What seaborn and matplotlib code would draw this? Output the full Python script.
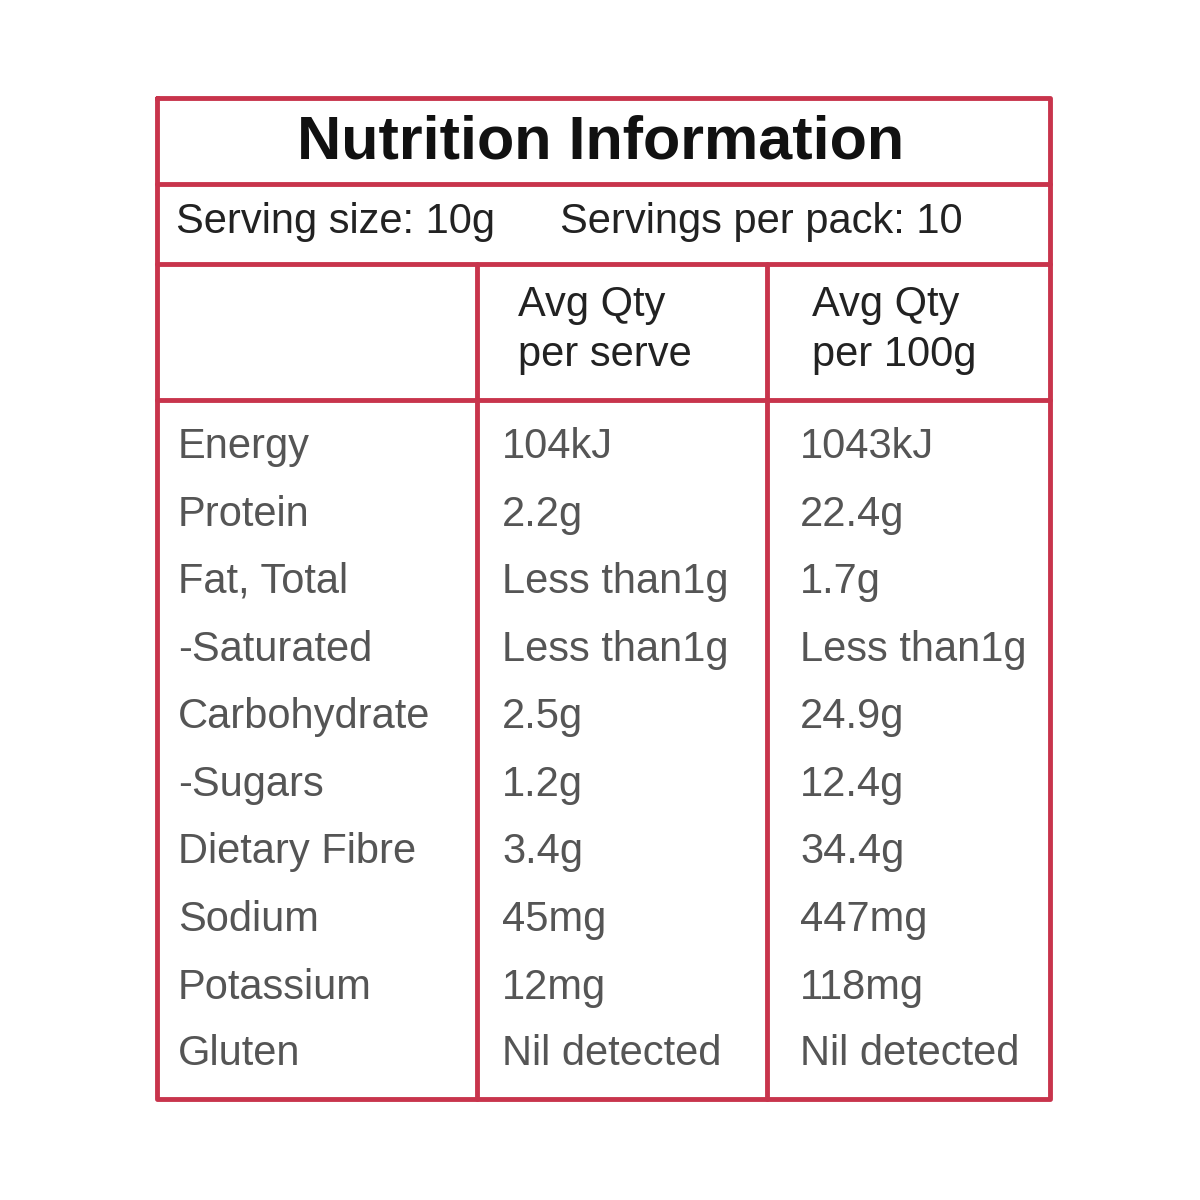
import matplotlib.pyplot as plt
import seaborn as sns

title = 'Nutrition Information'
serving = 'Serving size: 10g'
servings_pack = 'Servings per pack: 10'
headers = ['Avg Qty\nper serve', 'Avg Qty\nper 100g']
nutrients = ['Energy', 'Protein', 'Fat, Total', '-Saturated', 'Carbohydrate',
             '-Sugars', 'Dietary Fibre', 'Sodium', 'Potassium', 'Gluten']
per_serve = ['104kJ', '2.2g', 'Less than1g', 'Less than1g', '2.5g',
             '1.2g', '3.4g', '45mg', '12mg', 'Nil detected']
per_100g = ['1043kJ', '22.4g', '1.7g', 'Less than1g', '24.9g',
            '12.4g', '34.4g', '447mg', '118mg', 'Nil detected']

sns.set_style('white')
plt.rcParams['font.family'] = ['Liberation Sans Narrow', 'Liberation Sans', 'DejaVu Sans']

red = '#c8344c'
grey = '#555555'

fig = plt.figure(figsize=(12, 12), dpi=100)
ax = fig.add_axes([0, 0, 1, 1])
ax.set_xlim(0, 1200)
ax.set_ylim(1200, 0)
ax.axis('off')

# frame
L, R, T, B = 157, 1050, 98, 1099
ax.plot([L, R, R, L, L], [T, T, B, B, T], color=red, lw=3.5)
for y in [184, 264, 400]:
    ax.plot([L, R], [y, y], color=red, lw=3.5)
for x in [477, 767]:
    ax.plot([x, x], [264, B], color=red, lw=3.5)

ax.text(601, 143, title, ha='center', va='center', fontsize=44, weight='bold', color='#111111')
ax.text(176, 222, serving, ha='left', va='center', fontsize=30, color='#222222')
ax.text(560, 222, servings_pack, ha='left', va='center', fontsize=30, color='#222222')
ax.text(518, 330, headers[0], ha='left', va='center', fontsize=30, color='#222222', linespacing=1.35)
ax.text(812, 330, headers[1], ha='left', va='center', fontsize=30, color='#222222', linespacing=1.35)

ys = [447, 515, 582, 650, 717, 785, 852, 920, 988, 1054]
for y, n, a, b in zip(ys, nutrients, per_serve, per_100g):
    ax.text(178, y, n, ha='left', va='center', fontsize=30, color=grey)
    ax.text(502, y, a, ha='left', va='center', fontsize=30, color=grey)
    ax.text(800, y, b, ha='left', va='center', fontsize=30, color=grey)

fig.savefig('out.png', dpi=100, facecolor='white')
